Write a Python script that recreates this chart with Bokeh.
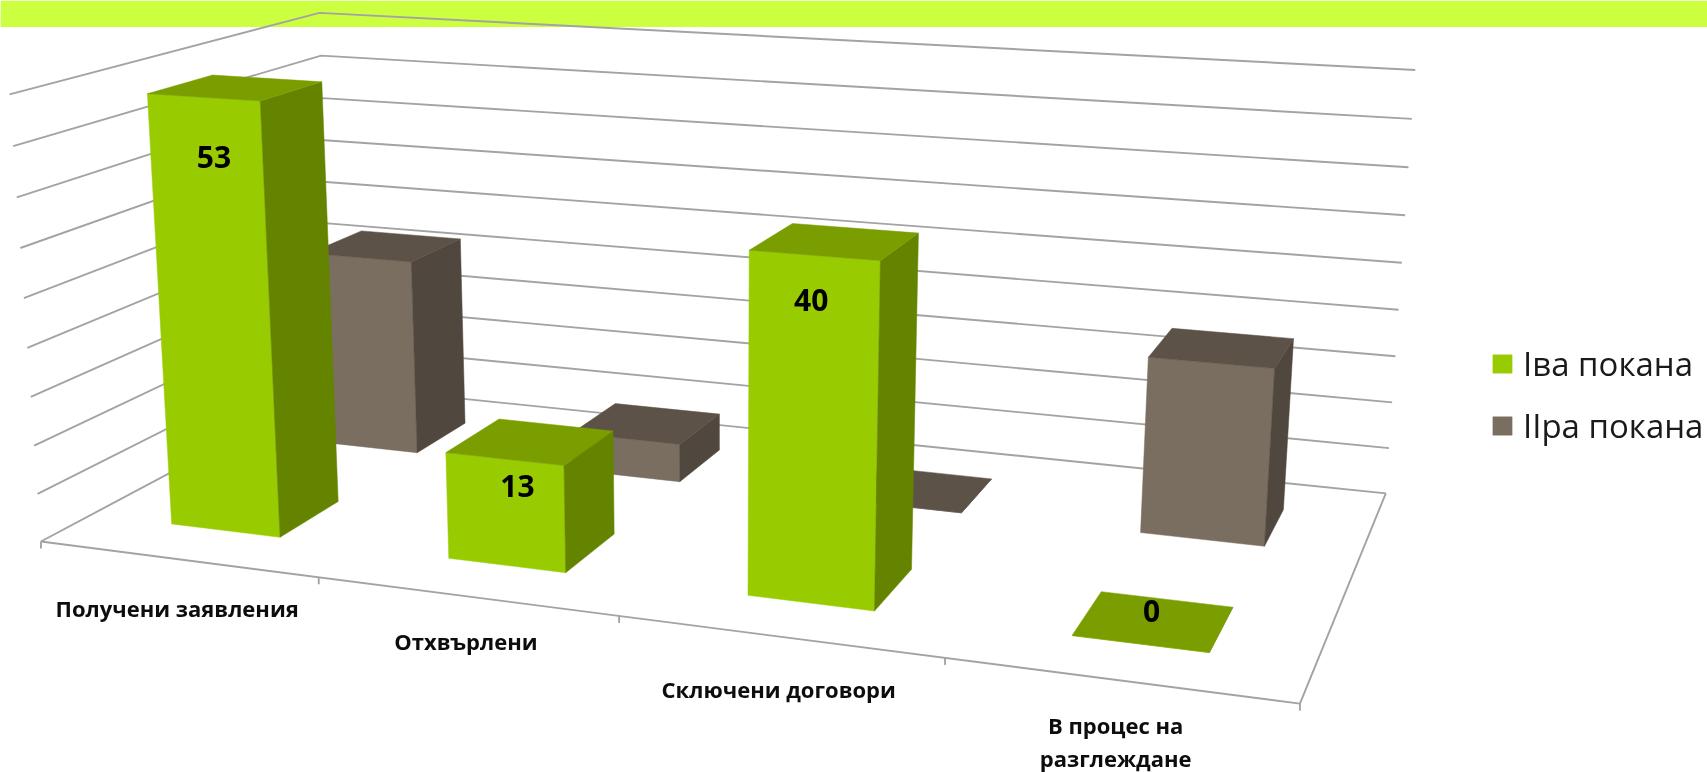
import numpy as np
from bokeh.core.properties import value
from bokeh.embed import file_html
from bokeh.models import Legend, LegendItem, Range1d
from bokeh.plotting import figure
from bokeh.resources import INLINE

categories = ["Получени заявления", "Отхвърлени", "Сключени договори", "В процес на\nразглеждане"]
series_names = ["Iва покана", "IIра покана"]
first_call = [53, 13, 40, 0]
second_call = [26, 5, 0, 22]
axis_max = 54
axis_step = 6

W, H = 1707, 772
FONT = "Open Sans"
GREEN = ("#99CC00", "#7A9E00", "#648400")
GREY = ("#796E5F", "#5C5247", "#50473E")
GRID = "#A3A3A3"
BAND = "#CCFF3F"

# Oblique view: a camera matrix fitted to the corners of the plot box.
# (category fraction, depth fraction, height fraction) -> page position
box = [((0, 0, 0), (39.5, 541)), ((1, 0, 0), (1299.5, 703)), ((1, 1, 0), (1385, 493)),
       ((0, 1, 0), (334.5, 385)), ((0, 0, 1), (10, 94)), ((0, 1, 1), (318, 12.3)),
       ((1, 1, 1), (1415, 69.5))]
A, b = [], []
for (s, t, z), (px, py) in box:
    A.append([s, t, z, 1, 0, 0, 0, 0, -px * s, -px * t, -px * z]); b.append(px)
    A.append([0, 0, 0, 0, s, t, z, 1, -py * s, -py * t, -py * z]); b.append(py)
cam = np.append(np.linalg.lstsq(np.array(A, float), np.array(b, float), rcond=None)[0], 1).reshape(3, 4)


def project(cat, depth, val):
    q = cam @ np.array([cat / len(categories), depth, val / axis_max, 1.0])
    return q[0] / q[2], q[1] / q[2]


def poly(points):
    xy = [project(*pt) for pt in points]
    return [a for a, _ in xy], [c for _, c in xy]


p = figure(width=W, height=H, x_range=Range1d(0, W), y_range=Range1d(H, 0),
           output_backend="svg", toolbar_location=None, min_border=0,
           outline_line_color=None, background_fill_color="white",
           styles={"position": "fixed", "left": "0", "top": "0"})
p.axis.visible = False
p.grid.visible = False

p.quad(left=0, right=W, top=0, bottom=26.5, fill_color=BAND, line_color=None)

# Walls and floor
n_cat = len(categories)
for v in np.arange(0, axis_max + axis_step, axis_step):
    xs, ys = poly([(0, 0, v), (0, 1, v), (n_cat, 1, v)])
    p.line(xs, ys, line_color=GRID, line_width=1.9)
xs, ys = poly([(0, 0, 0), (n_cat, 0, 0), (n_cat, 1, 0)])
p.line(xs, ys, line_color=GRID, line_width=1.9)
for i in range(n_cat + 1):
    tx, ty = project(i, 0, 0)
    p.segment(x0=[tx], y0=[ty], x1=[tx], y1=[ty + 7], line_color=GRID, line_width=1.9)

# Bars, back row first
BAR_LO, BAR_HI = 0.3, 0.7
rows = [(second_call, GREY, 0.65, 0.85), (first_call, GREEN, 0.15, 0.35)]
front_renderers = {}
for vals, cols, d0, d1 in rows:
    f, t, s = [], [], []
    for i, v in enumerate(vals):
        a, c = i + BAR_LO, i + BAR_HI
        f.append(poly([(a, d0, 0), (c, d0, 0), (c, d0, v), (a, d0, v)]))
        t.append(poly([(a, d0, v), (c, d0, v), (c, d1, v), (a, d1, v)]))
        s.append(poly([(c, d0, 0), (c, d1, 0), (c, d1, v), (c, d0, v)]))
    rf = p.patches([q[0] for q in f], [q[1] for q in f], fill_color=cols[0], line_color=cols[0], line_width=0.5)
    p.patches([q[0] for q in s], [q[1] for q in s], fill_color=cols[2], line_color=cols[2], line_width=0.5)
    p.patches([q[0] for q in t], [q[1] for q in t], fill_color=cols[1], line_color=cols[1], line_width=0.5)
    front_renderers[cols] = rf

# Data labels, placed relative to the top of each front face
label_shift = [(10.5, 59.5), (13, 27), (-3, 44.5), (11.5, -33)]
lx, ly, lt = [], [], []
for i, v in enumerate(first_call):
    ax, ay = project(i + 0.5, 0.15, v)
    lx.append(ax + label_shift[i][0]); ly.append(ay + label_shift[i][1]); lt.append(str(v))
p.text(lx, ly, text=lt, text_font=value(FONT), text_font_style="bold", text_font_size="30px",
       text_align="center", text_baseline="middle", text_color="black")

# Category labels below the front edge
label_drop = [49, 44.5, 52.5, 45]
label_side = [0, 0, 0, -3]
cx, cy, ct = [], [], []
for i, name in enumerate(categories):
    ax, ay = project(i + 0.5, 0, 0)
    for j, line in enumerate(name.split("\n")):
        cx.append(ax + label_side[i]); cy.append(ay + label_drop[i] + j * 33); ct.append(line)
p.text(cx, cy, text=ct, text_font=value(FONT), text_font_style="bold", text_font_size="22px",
       text_align="center", text_baseline="middle", text_color="#0D0D0D")

legend = Legend(items=[LegendItem(label=series_names[0], renderers=[front_renderers[GREEN]]),
                       LegendItem(label=series_names[1], renderers=[front_renderers[GREY]])],
                location=(1490, 324), orientation="vertical", padding=0, margin=0, spacing=17,
                glyph_width=24, glyph_height=23, label_standoff=9,
                label_text_font=FONT, label_text_font_size="33px", label_text_color="#1A1A1A",
                background_fill_alpha=0, border_line_color=None)
p.add_layout(legend, "center")

open("out.html", "w").write(file_html(p, INLINE))
